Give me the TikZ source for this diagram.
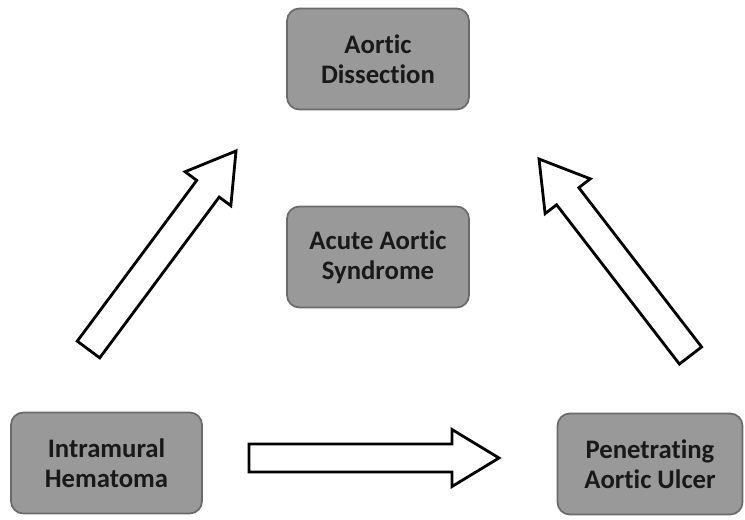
\documentclass[tikz,border=0pt]{standalone}
\usepackage{fontspec}
\setmainfont[Ligatures={NoCommon}]{Carlito}
\usepackage{tikz}
\usetikzlibrary{calc, positioning}
\definecolor{boxgray}{gray}{0.6}
\definecolor{edgegray}{gray}{0.42}
\definecolor{textgray}{gray}{0.1}
\newcommand{\hollowarrow}[2]{%
\path ($(#2)!0.94cm!(#1)$) coordinate (neck);
\draw[hollow] ($(#1)!0.28cm!90:(#2)$)--($(neck)!0.28cm!90:(#2)$)--($(neck)!0.57cm!90:(#2)$)--(#2)
	--($(neck)!0.57cm!-90:(#2)$)--($(neck)!0.28cm!-90:(#2)$)--($(#1)!0.28cm!-90:(#2)$)--cycle;}

\begin{document}
\begin{tikzpicture}[
	stage/.style={draw=edgegray, line width=1pt, fill=boxgray, rounded corners=7pt, minimum width=3.7cm, minimum height=2.02cm, align=center, text=textgray, font=\fontsize{15.2}{17.3}\selectfont\bfseries},
	hollow/.style={draw=black, line width=1.6pt, fill=white, line join=miter}]
\useasboundingbox (0,0) rectangle (14.9,10.38);
\node[stage, minimum width=3.64cm] (dissection) at (7.56, 9.2){Aortic\\Dissection};
\node[stage, minimum width=3.64cm] (syndrome) at (7.56, 5.24){Acute Aortic\\Syndrome};
\node[stage, minimum width=3.82cm] (hematoma) at (2.13, 1.12){Intramural\\Hematoma};
\node[stage] (ulcer) at (13.0, 1.1){Penetrating\\Aortic Ulcer};
\coordinate (leftfrom) at (1.77, 3.39);
\coordinate (leftto) at (4.72, 7.36);
\coordinate (rightfrom) at (13.81, 3.27);
\coordinate (rightto) at (10.78, 7.2);
\coordinate (lowfrom) at (4.98, 1.22);
\coordinate (lowto) at (9.98, 1.22);
\hollowarrow{leftfrom}{leftto}
\hollowarrow{rightfrom}{rightto}
\hollowarrow{lowfrom}{lowto}
\end{tikzpicture}
\end{document}
